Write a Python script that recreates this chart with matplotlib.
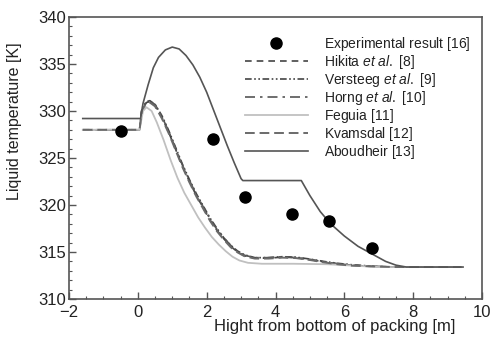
import matplotlib
matplotlib.use("Agg")
import matplotlib.pyplot as plt
from matplotlib.ticker import MultipleLocator

plt.rcParams['font.family'] = ['Liberation Sans', 'DejaVu Sans']
plt.rcParams['mathtext.fontset'] = 'custom'
plt.rcParams['mathtext.rm'] = 'Liberation Sans'
plt.rcParams['mathtext.it'] = 'Liberation Sans:italic'

# Experimental data
exp_x = [-0.49, 2.19, 3.12, 4.49, 5.56, 6.81]
exp_y = [327.9, 327.0, 320.85, 319.0, 318.3, 315.4]

# Model curves
base_x = [-1.6, 0.05, 0.12, 0.25, 0.35, 0.5, 0.7, 0.9, 1.1, 1.3, 1.5, 1.7, 1.9, 2.1,
          2.3, 2.5, 2.7, 2.9, 3.1, 3.4, 3.8, 4.2, 4.6, 5.0, 5.4, 5.8, 6.2, 6.6, 7.0, 7.5, 9.4]
hikita_y = [328.0, 328.0, 330.2, 330.9, 331.0, 330.6, 329.3, 327.7, 325.9, 324.1, 322.5, 321.0,
            319.7, 318.4, 317.3, 316.4, 315.6, 315.0, 314.6, 314.35, 314.35, 314.45, 314.4,
            314.2, 313.95, 313.75, 313.6, 313.5, 313.45, 313.4, 313.4]
versteeg_y = [328.0, 328.0, 330.3, 331.0, 331.1, 330.7, 329.5, 327.9, 326.1, 324.3, 322.7, 321.2,
              319.9, 318.6, 317.5, 316.5, 315.7, 315.1, 314.7, 314.4, 314.4, 314.5, 314.45,
              314.25, 314.0, 313.8, 313.65, 313.55, 313.45, 313.4, 313.4]
horng_y = [328.0, 328.0, 330.2, 330.9, 331.0, 330.7, 329.4, 327.8, 326.0, 324.2, 322.6, 321.1,
           319.8, 318.5, 317.4, 316.5, 315.7, 315.05, 314.65, 314.4, 314.4, 314.5, 314.4,
           314.2, 313.95, 313.75, 313.6, 313.5, 313.45, 313.4, 313.4]
kvamsdal_y = [328.0, 328.0, 330.1, 330.8, 330.9, 330.5, 329.2, 327.6, 325.8, 324.0, 322.4, 320.9,
              319.6, 318.3, 317.2, 316.3, 315.5, 314.95, 314.55, 314.3, 314.3, 314.4, 314.35,
              314.15, 313.9, 313.7, 313.55, 313.5, 313.45, 313.4, 313.4]

feguia_x = [-1.6, 0.05, 0.15, 0.25, 0.4, 0.55, 0.75, 0.95, 1.15, 1.35, 1.55, 1.75, 1.95, 2.15,
            2.35, 2.55, 2.75, 2.95, 3.2, 3.6, 4.5, 5.5, 6.5, 7.0, 9.4]
feguia_y = [328.0, 328.0, 330.0, 330.4, 330.0, 328.8, 326.9, 324.8, 322.9, 321.3, 320.0, 318.7,
            317.6, 316.6, 315.8, 315.1, 314.5, 314.1, 313.85, 313.75, 313.75, 313.7, 313.5,
            313.4, 313.4]

aboud_x = [-1.6, 0.08, 0.15, 0.3, 0.45, 0.6, 0.8, 1.0, 1.2, 1.4, 1.6, 1.8, 2.0, 2.2, 2.4, 2.6,
           2.8, 3.0, 3.05, 4.75, 5.0, 5.3, 5.6, 6.0, 6.4, 6.8, 7.2, 7.5, 7.8, 9.45]
aboud_y = [329.2, 329.2, 330.8, 332.8, 334.6, 335.7, 336.5, 336.8, 336.6, 335.9, 334.9, 333.6,
           332.0, 330.1, 328.2, 326.3, 324.5, 322.8, 322.6, 322.6, 321.0, 319.3, 318.0, 316.7,
           315.6, 314.8, 314.0, 313.6, 313.4, 313.4]

labels = [r"$\mathrm{Experimental\ result\ [16]}$",
          r"$\mathrm{Hikita}\ \mathit{et\ al.}\ \mathrm{[8]}$",
          r"$\mathrm{Versteeg}\ \mathit{et\ al.}\ \mathrm{[9]}$",
          r"$\mathrm{Horng}\ \mathit{et\ al.}\ \mathrm{[10]}$",
          r"$\mathrm{Feguia\ [11]}$",
          r"$\mathrm{Kvamsdal\ [12]}$",
          r"$\mathrm{Aboudheir\ [13]}$"]

fig = plt.figure(figsize=(4.93, 3.43), dpi=100)
ax = fig.add_axes([69/493, 1-299/343, 413/493, 282/343])

ax.plot(exp_x, exp_y, 'o', color='black', markersize=8, label=labels[0], zorder=5)
ax.plot(base_x, hikita_y, color='#444444', lw=1.2, dashes=(4, 3), label=labels[1])
ax.plot(base_x, versteeg_y, color='#444444', lw=1.2, dashes=(4, 1.5, 1, 1.5, 1, 1.5), label=labels[2])
ax.plot(base_x, horng_y, color='#555555', lw=1.2, dashes=(6, 3, 1.5, 3), label=labels[3])
ax.plot(feguia_x, feguia_y, color='#c0c0c0', lw=1.3, label=labels[4])
ax.plot(base_x, kvamsdal_y, color='#6a6a6a', lw=1.4, dashes=(5, 2.5), label=labels[5])
ax.plot(aboud_x, aboud_y, color='#555555', lw=1.2, label=labels[6])

ax.set_xlim(-2, 10)
ax.set_ylim(310, 340)
ax.xaxis.set_major_locator(MultipleLocator(2))
ax.xaxis.set_minor_locator(MultipleLocator(0.5))
ax.yaxis.set_major_locator(MultipleLocator(5))
ax.yaxis.set_minor_locator(MultipleLocator(1))
ax.tick_params(which='both', direction='in', top=False, right=False, labelsize=12,
               colors='#555555', labelcolor='#222222')
ax.tick_params(which='major', length=5, width=1)
ax.tick_params(which='minor', length=2.5, width=0.8)
ax.tick_params(axis='x', pad=4)
ax.tick_params(axis='y', pad=2)
for s in ax.spines.values():
    s.set_color('#555555')
    s.set_linewidth(1.2)

ax.set_xlabel("Hight from bottom of packing [m]", fontsize=12, color='#222222')
ax.xaxis.set_label_coords(0.644, -0.07)
ax.set_ylabel("Liquid temperature [K]", fontsize=11.5, color='#222222')
ax.yaxis.set_label_coords(-0.114, 0.63)

leg = ax.legend(loc='upper left', bbox_to_anchor=(0.425, 0.935), frameon=False, fontsize=10,
                handlelength=4.6, handletextpad=1.1, labelspacing=0.0, numpoints=1,
                borderpad=0, borderaxespad=0)
for t in leg.get_texts():
    t.set_color('#222222')

fig.savefig("out.png", dpi=100)
